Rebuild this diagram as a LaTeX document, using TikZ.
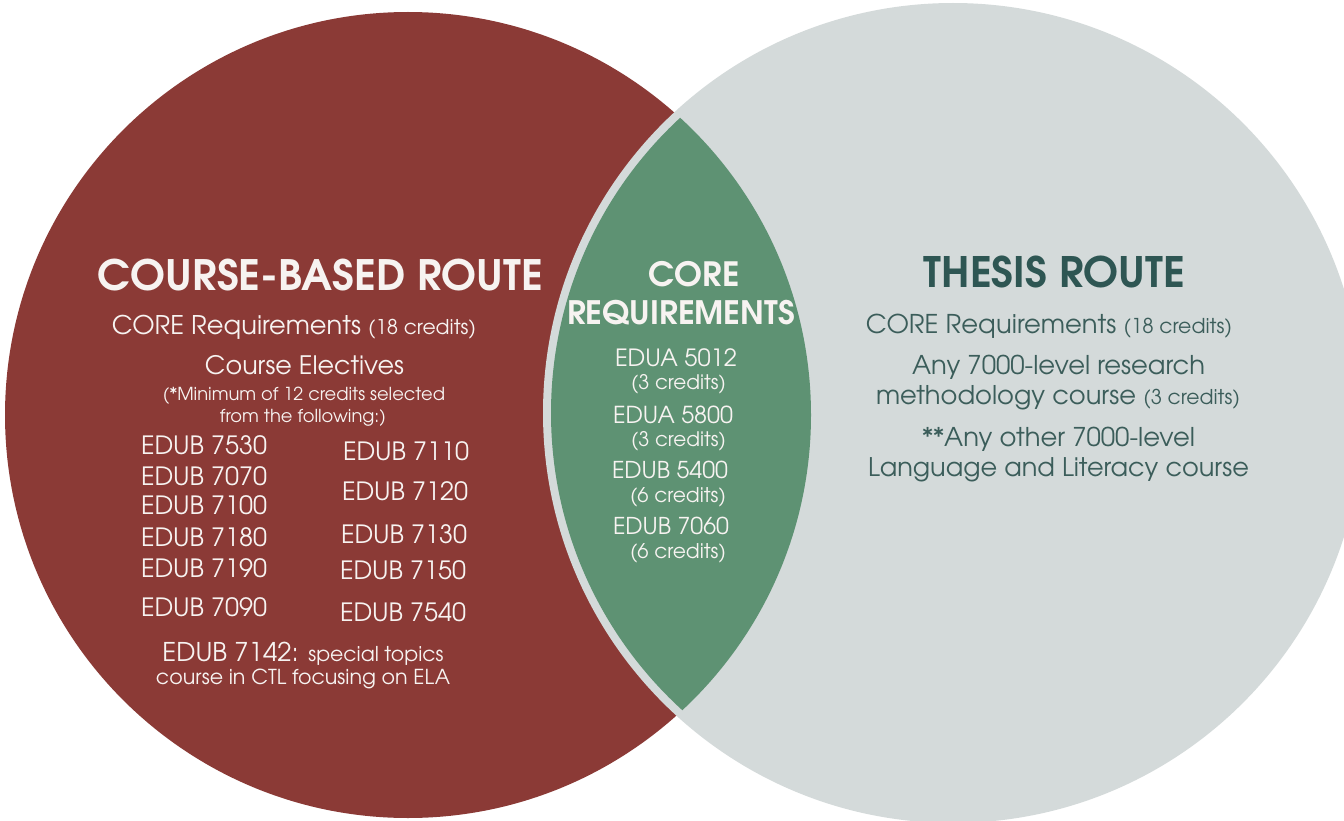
\documentclass[tikz,border=0pt]{standalone}
\usepackage{graphicx}
\usepackage{fontspec}
\setmainfont{texgyreadventor}[Extension=.otf, UprightFont=*-regular, BoldFont=*-bold, ItalicFont=*-italic, BoldItalicFont=*-bolditalic]
\definecolor{routered}{HTML}{8B3A36}
\definecolor{coregreen}{HTML}{5E9273}
\definecolor{thesisgray}{HTML}{D4DADA}
\definecolor{tealtitle}{HTML}{2E5653}
\definecolor{tealtext}{HTML}{3B5D5A}
\definecolor{offwhite}{HTML}{F7F3F1}
\newcommand\fw[2]{\resizebox{#1pt}{!}{#2}}
\newcommand\sm[1]{{\fontsize{19}{21}\selectfont #1}}
\tikzset{
  txt/.style={inner sep=0pt, outer sep=0pt, anchor=base, font=\fontsize{24}{28}\selectfont},
  wt/.style={txt, text=offwhite},
  tt/.style={txt, text=tealtext},
  ttl/.style={txt, text=tealtitle},
  lcol/.style={wt, anchor=base west},
}
\begin{document}
\begin{tikzpicture}[x=1pt,y=-1pt]
\useasboundingbox (0,0) rectangle (1344,821);
\begin{scope}
\clip (0,0) rectangle (1344,821);
\fill[routered] (408,415) circle[radius=403pt];
\fill[thesisgray] (953,413) circle[radius=410pt];
\begin{scope}
\clip (408,415) circle[radius=403pt];
\fill[coregreen] (953,413) circle[radius=402pt];
\end{scope}
\end{scope}

% left circle
\node[wt] (cbr) at (320.5,290) {\fw{445}{\bfseries COURSE-BASED ROUTE}};
\node[wt] (lcore) at (294,334) {\fw{364}{CORE Requirements \sm{(18 credits)}}};
\node[wt] (elec) at (304.5,374) {\fw{199}{Course Electives}};
\node[wt] (minc) at (304,400) {\fw{282}{(*Minimum of 12 credits selected}};
\node[wt] (foll) at (303,422) {\fw{166}{from the following:)}};
\node[lcol] (c7530) at (141,454) {\fw{126}{EDUB 7530}};
\node[lcol] (c7070) at (141,485) {\fw{126}{EDUB 7070}};
\node[lcol] (c7100) at (141,514) {\fw{126}{EDUB 7100}};
\node[lcol] (c7180) at (141,546) {\fw{126}{EDUB 7180}};
\node[lcol] (c7190) at (141,577) {\fw{126}{EDUB 7190}};
\node[lcol] (c7090) at (141,616) {\fw{126}{EDUB 7090}};
\node[lcol] (c7110) at (343,460) {\fw{126}{EDUB 7110}};
\node[lcol] (c7120) at (342,500) {\fw{126}{EDUB 7120}};
\node[lcol] (c7130) at (341,543) {\fw{126}{EDUB 7130}};
\node[lcol] (c7150) at (340,579) {\fw{126}{EDUB 7150}};
\node[lcol] (c7540) at (340,621) {\fw{126}{EDUB 7540}};
\node[wt] (c7142) at (303,661) {\fw{281}{EDUB 7142: \sm{special topics}}};
\node[wt] (ctl) at (303,684) {\fw{294}{\sm{course in CTL focusing on ELA}}};

% lens
\node[wt] (core) at (694,287) {\fw{91}{\bfseries CORE}};
\node[wt] (reqs) at (681,324) {\fw{228}{\bfseries REQUIREMENTS}};
\node[wt] (a5012) at (676,366) {\fw{122}{EDUA 5012}};
\node[wt] (a5012c) at (678.5,389) {\fw{95}{(3 credits)}};
\node[wt] (a5800) at (673,423) {\fw{120}{EDUA 5800}};
\node[wt] (a5800c) at (678.5,446) {\fw{95}{(3 credits)}};
\node[wt] (b5400) at (670,478) {\fw{116}{EDUB 5400}};
\node[wt] (b5400c) at (678,502) {\fw{96}{(6 credits)}};
\node[wt] (b7060) at (671,534) {\fw{116}{EDUB 7060}};
\node[wt] (b7060c) at (678,558) {\fw{96}{(6 credits)}};

% right circle
\node[ttl] (thesis) at (1054.5,287) {\fw{261}{\bfseries THESIS ROUTE}};
\node[tt] (rcore) at (1049,333) {\fw{366}{CORE Requirements \sm{(18 credits)}}};
\node[tt] (res1) at (1058.5,374) {\fw{293}{Any 7000-level research}};
\node[tt] (res2) at (1058,404) {\fw{364}{methodology course \sm{(3 credits)}}};
\node[tt] (oth1) at (1058.5,446) {\fw{273}{**Any other 7000-level}};
\node[tt] (oth2) at (1058.5,476) {\fw{381}{Language and Literacy course}};
\end{tikzpicture}
\end{document}
